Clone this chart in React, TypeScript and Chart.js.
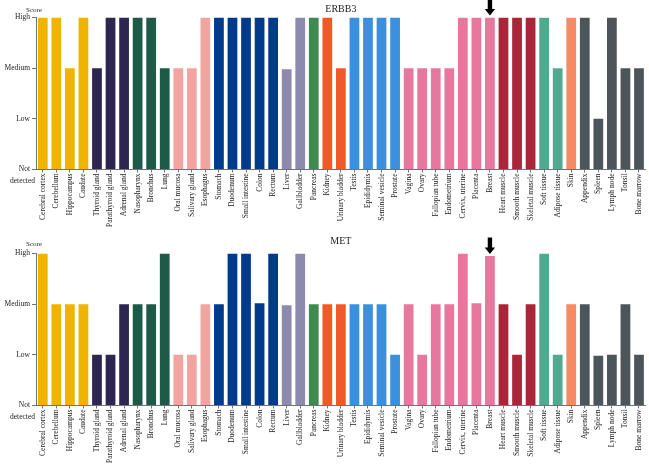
import React, { useEffect, useRef } from 'react';
import { Chart, registerables } from 'chart.js';

Chart.register(...registerables);

// ---------- data ----------
const categories = [
  'Cerebral cortex', 'Cerebellum', 'Hippocampus', 'Caudate',
  'Thyroid gland', 'Parathyroid gland', 'Adrenal gland',
  'Nasopharynx', 'Bronchus', 'Lung',
  'Oral mucosa', 'Salivary gland', 'Esophagus',
  'Stomach', 'Duodenum', 'Small intestine', 'Colon', 'Rectum',
  'Liver', 'Gallbladder', 'Pancreas',
  'Kidney', 'Urinary bladder',
  'Testis', 'Epididymis', 'Seminal vesicle', 'Prostate',
  'Vagina', 'Ovary', 'Fallopian tube', 'Endometrium', 'Cervix, uterine', 'Placenta', 'Breast',
  'Heart muscle', 'Smooth muscle', 'Skeletal muscle',
  'Soft tissue', 'Adipose tissue', 'Skin',
  'Appendix', 'Spleen', 'Lymph node', 'Tonsil', 'Bone marrow',
];

// 0 = Not detected, 1 = Low, 2 = Medium, 3 = High
const erbb3Scores = [
  3, 3, 2, 3,
  2, 3, 3,
  3, 3, 2,
  2, 2, 3,
  3, 3, 3, 3, 3,
  1.98, 3, 3,
  3, 2,
  3, 3, 3, 3,
  2, 2, 2, 2, 3, 3, 3,
  3, 3, 3,
  3, 2, 3,
  3, 1, 3, 2, 2,
];

const metScores = [
  3, 2, 2, 2,
  1, 1, 2,
  2, 2, 3,
  1, 1, 2,
  2, 3, 3, 2.02, 3,
  1.98, 3, 2,
  2, 2,
  2, 2, 2, 1,
  2, 1, 2, 2, 3, 2.02, 2.95,
  2, 1, 2,
  3, 1, 2,
  2, 0.98, 1, 2, 1,
];

// tissue group index for each category (drives the bar colour)
const tissueGroups = [
  0, 0, 0, 0,
  1, 1, 1,
  2, 2, 2,
  3, 3, 3,
  4, 4, 4, 4, 4,
  5, 5, 6,
  7, 7,
  8, 8, 8, 8,
  9, 9, 9, 9, 9, 9, 9,
  10, 10, 10,
  11, 11, 12,
  13, 13, 13, 13, 13,
];

const scoreLabels = ['Not detected', 'Low', 'Medium', 'High'];
const geneNames = ['ERBB3', 'MET'];
const highlightTissue = 'Breast';

// ---------- styles ----------
const GROUP_COLORS = [
  '#F0B400', // brain
  '#2C2650', // endocrine
  '#1E5A48', // respiratory
  '#F2A5A0', // proximal digestive
  '#003A8A', // gastrointestinal
  '#8E8AAE', // liver & gallbladder
  '#3E8A50', // pancreas
  '#F05A28', // kidney & bladder
  '#3A90DC', // male
  '#E8779E', // female
  '#A82638', // muscle
  '#50AA8E', // connective
  '#F58A65', // skin
  '#4C555A', // lymphoid
];

const SERIF = '"Liberation Serif", "DejaVu Serif", serif';
const TEXT = '#222';
const AXIS = '#4a4f5a';
const PLOT_TOP = 17.5;
const PLOT_BOTTOM = 169.5;

type PanelOpts = {
  title: string;
  titleY: number;
  scoreY: number;
  values: number[];
};

const overlayPlugin = {
  id: 'overlay',
  afterDraw(chart: any, _args: any, opts: PanelOpts) {
    const ctx = chart.ctx as CanvasRenderingContext2D;
    const area = chart.chartArea;
    const xs = chart.scales.x;
    const ys = chart.scales.y;
    ctx.save();
    ctx.fillStyle = TEXT;
    ctx.textBaseline = 'middle';

    // title centred over plot area
    ctx.font = `10px ${SERIF}`;
    ctx.textAlign = 'center';
    ctx.fillText(opts.title, (area.left + area.right) / 2, opts.titleY);

    // axis caption
    ctx.font = `7px ${SERIF}`;
    ctx.fillText('Score', 34, opts.scoreY);

    // two-line bottom label
    const y0 = ys.getPixelForValue(0);
    const [w1, w2] = scoreLabels[0].split(' ');
    ctx.font = `7.5px ${SERIF}`;
    ctx.textAlign = 'right';
    ctx.fillText(w1, 30, y0);
    ctx.fillText(w2, 35, y0 + 12);

    // highlight arrow
    const idx = categories.indexOf(highlightTissue);
    const ax = xs.getPixelForValue(idx);
    const tip = ys.getPixelForValue(opts.values[idx]) - 2;
    const top = tip - 16.5;
    const headH = 6.5;
    ctx.fillStyle = '#000';
    ctx.beginPath();
    ctx.moveTo(ax - 2.2, top);
    ctx.lineTo(ax + 2.2, top);
    ctx.lineTo(ax + 2.2, tip - headH);
    ctx.lineTo(ax + 5.2, tip - headH);
    ctx.lineTo(ax, tip);
    ctx.lineTo(ax - 5.2, tip - headH);
    ctx.lineTo(ax - 2.2, tip - headH);
    ctx.closePath();
    ctx.fill();
    ctx.restore();
  },
};

function Panel({ gene, values, height, titleY, scoreY }: { gene: string; values: number[]; height: number; titleY: number; scoreY: number }) {
  const ref = useRef<HTMLCanvasElement | null>(null);
  useEffect(() => {
    if (!ref.current) return;
    const chart = new Chart(ref.current, {
      type: 'bar',
      data: {
        labels: categories,
        datasets: [
          {
            data: values,
            backgroundColor: tissueGroups.map((g) => GROUP_COLORS[g]),
            borderWidth: 0,
            barPercentage: 0.72,
            categoryPercentage: 1,
          },
        ],
      },
      options: {
        responsive: false,
        animation: false,
        layout: { padding: { top: PLOT_TOP, left: 0, right: 1, bottom: 0 } },
        plugins: {
          legend: { display: false },
          tooltip: { enabled: false },
          title: { display: false },
          overlay: { title: gene, titleY, scoreY, values },
        } as any,
        scales: {
          x: {
            grid: { display: true, drawOnChartArea: false, offset: false, tickLength: 3, color: AXIS, lineWidth: 0.8 },
            border: { display: true, color: AXIS, width: 0.8 },
            ticks: {
              autoSkip: false,
              minRotation: 90,
              maxRotation: 90,
              padding: 1,
              color: TEXT,
              font: { family: SERIF, size: 7.5 },
            },
            afterFit: (s: any) => {
              s.height = height - PLOT_BOTTOM;
            },
          },
          y: {
            min: 0,
            max: 3,
            grid: { display: true, drawOnChartArea: false, tickLength: 4, color: AXIS, lineWidth: 0.8 },
            border: { display: true, color: AXIS, width: 0.8 },
            ticks: {
              stepSize: 1,
              padding: 2,
              color: TEXT,
              font: { family: SERIF, size: 7.5 },
              callback: (v: any) => (Number(v) === 0 ? '' : scoreLabels[Number(v)]),
            },
            afterFit: (s: any) => {
              s.width = 36;
            },
          },
        },
      },
      plugins: [overlayPlugin],
    });
    return () => chart.destroy();
  }, [gene, values, height, titleY, scoreY]);
  return <canvas ref={ref} width={649} height={height} style={{ display: 'block', width: 649, height }} />;
}

export default function App() {
  useEffect(() => {
    document.body.style.margin = '0';
    document.body.style.background = '#fff';
  }, []);
  return (
    <div style={{ width: 649, height: 474, background: '#fff' }}>
      <Panel gene={geneNames[0]} values={erbb3Scores} height={236} titleY={9} scoreY={10} />
      <Panel gene={geneNames[1]} values={metScores} height={238} titleY={5} scoreY={8} />
    </div>
  );
}
